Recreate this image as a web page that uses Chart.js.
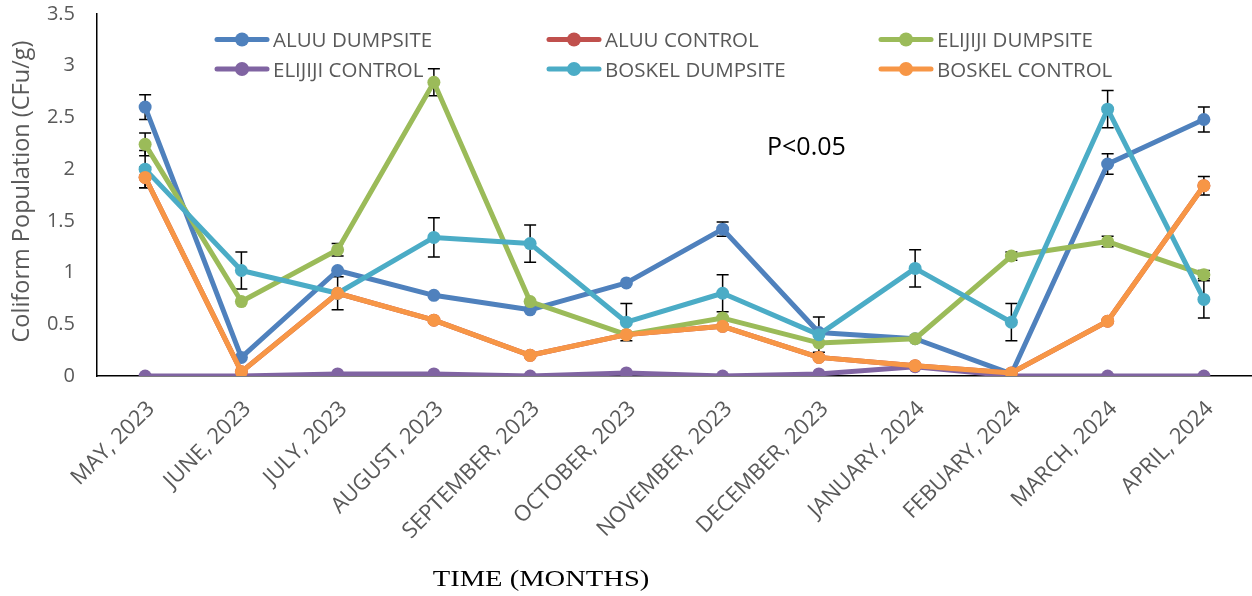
<!DOCTYPE html>
<html>
<head>
<meta charset="utf-8">
<script src="https://cdn.jsdelivr.net/npm/chart.js@4.4.0/dist/chart.umd.min.js"></script>
<style>
html,body{margin:0;padding:0;background:#fff;}
#wrap{width:1252px;height:596px;position:relative;}
</style>
</head>
<body>
<div id="wrap"><canvas id="c" width="1252" height="596"></canvas></div>
<script>
// ---- Data ----
const months = ['MAY, 2023','JUNE, 2023','JULY, 2023','AUGUST, 2023','SEPTEMBER, 2023','OCTOBER, 2023','NOVEMBER, 2023','DECEMBER, 2023','JANUARY, 2024','FEBUARY, 2024','MARCH, 2024','APRIL, 2024'];
const seriesNames = ['ALUU DUMPSITE','ALUU CONTROL','ELIJIJI DUMPSITE','ELIJIJI CONTROL','BOSKEL DUMPSITE','BOSKEL CONTROL'];
const aluuDump       = [2.60,0.18,1.02,0.78,0.64,0.90,1.42,0.42,0.36,0.02,2.05,2.48];
const aluuControl    = [1.92,0.04,0.80,0.54,0.20,0.40,0.48,0.18,0.10,0.03,0.53,1.84];
const elijijiDump    = [2.24,0.72,1.22,2.84,0.72,0.40,0.56,0.32,0.36,1.16,1.30,0.98];
const elijijiControl = [0.00,0.00,0.02,0.02,0.00,0.03,0.00,0.02,0.09,0.00,0.00,0.00];
const boskelDump     = [2.00,1.02,0.80,1.34,1.28,0.52,0.80,0.40,1.04,0.52,2.58,0.74];
const boskelControl  = [1.92,0.04,0.80,0.54,0.20,0.40,0.48,0.18,0.10,0.03,0.53,1.84];
// error bar half-widths (null = none)
const aluuDumpErr       = [0.12,null,null,null,null,null,0.07,null,null,null,0.10,0.12];
const aluuControlErr    = [null,null,null,null,null,null,null,null,null,null,null,null];
const elijijiDumpErr    = [0.11,null,0.06,0.13,null,null,null,null,null,0.04,0.05,0.04];
const elijijiControlErr = [null,null,null,null,null,null,null,null,null,null,null,null];
const boskelDumpErr     = [0.18,0.18,0.16,0.19,0.18,0.18,0.18,0.17,0.18,0.18,0.18,0.18];
const boskelControlErr  = [0.10,null,null,null,null,null,null,null,null,null,null,0.09];
const yTicks = [0,0.5,1,1.5,2,2.5,3,3.5];
const annotationText = 'P<0.05';
const xTitle = 'TIME (MONTHS)';
const yTitle = 'Coliform Population (CFu/g)';

const colors = ['#4F81BD','#C0504D','#9BBB59','#8064A2','#4BACC6','#F79646'];
const values = [aluuDump, aluuControl, elijijiDump, elijijiControl, boskelDump, boskelControl];
const errs = [aluuDumpErr, aluuControlErr, elijijiDumpErr, elijijiControlErr, boskelDumpErr, boskelControlErr];

const datasets = values.map((v, i) => ({
  label: seriesNames[i],
  data: v,
  errors: errs[i],
  borderColor: colors[i],
  backgroundColor: colors[i],
  borderWidth: 5,
  borderJoinStyle: 'round',
  borderCapStyle: 'round',
  pointRadius: 6.5,
  pointHoverRadius: 6.5,
  pointBorderWidth: 0,
  pointBackgroundColor: colors[i],
  tension: 0,
  order: 10 - i
}));

const extras = {
  id: 'extras',
  beforeDatasetsDraw(chart) {
    const ctx = chart.ctx, xs = chart.scales.x, ys = chart.scales.y;
    ctx.save();
    ctx.strokeStyle = '#000';
    ctx.lineWidth = 1.5;
    chart.data.datasets.forEach(ds => {
      (ds.errors || []).forEach((e, j) => {
        if (e == null) return;
        const x = xs.getPixelForValue(j);
        const y1 = ys.getPixelForValue(ds.data[j] + e);
        const y2 = ys.getPixelForValue(ds.data[j] - e);
        ctx.beginPath();
        ctx.moveTo(x, y1); ctx.lineTo(x, y2);
        ctx.moveTo(x - 6, y1); ctx.lineTo(x + 6, y1);
        ctx.moveTo(x - 6, y2); ctx.lineTo(x + 6, y2);
        ctx.stroke();
      });
    });
    ctx.restore();
  },
  afterDraw(chart, args, opts) {
    const ctx = chart.ctx;
    ctx.save();
    // legend
    ctx.font = '20.5px "Open Sans"';
    ctx.textAlign = 'left';
    ctx.textBaseline = 'alphabetic';
    chart.data.datasets.forEach((ds, i) => {
      const x0 = opts.legendCols[i % 3];
      const y0 = opts.legendRows[Math.floor(i / 3)];
      ctx.strokeStyle = ds.borderColor;
      ctx.lineWidth = 5;
      ctx.lineCap = 'round';
      ctx.beginPath(); ctx.moveTo(x0 + 2, y0); ctx.lineTo(x0 + 52, y0); ctx.stroke();
      ctx.fillStyle = ds.borderColor;
      ctx.beginPath(); ctx.arc(x0 + 27, y0, 7, 0, Math.PI * 2); ctx.fill();
      ctx.fillStyle = '#595959';
      ctx.fillText(ds.label, x0 + 58, y0 + 7.5);
    });
    // annotation
    ctx.fillStyle = '#000';
    ctx.font = '25px "Open Sans"';
    ctx.fillText(annotationText, opts.annX, opts.annY);
    // y title
    ctx.save();
    ctx.translate(opts.yTitleX, opts.yTitleY);
    ctx.rotate(-Math.PI / 2);
    ctx.textAlign = 'center';
    ctx.textBaseline = 'middle';
    ctx.fillStyle = '#595959';
    ctx.font = '23.5px "Open Sans"';
    ctx.fillText(yTitle, 0, 0);
    ctx.restore();
    // x title
    ctx.save();
    ctx.translate(opts.xTitleX, opts.xTitleY);
    ctx.scale(1.19, 1);
    ctx.textAlign = 'center';
    ctx.textBaseline = 'alphabetic';
    ctx.fillStyle = '#000';
    ctx.font = '24px "Liberation Serif"';
    ctx.fillText(xTitle, 0, 0);
    ctx.restore();
    ctx.restore();
  }
};

new Chart(document.getElementById('c'), {
  type: 'line',
  data: { labels: months, datasets },
  plugins: [extras],
  options: {
    responsive: false,
    devicePixelRatio: 1,
    animation: false,
    events: [],
    layout: { autoPadding: false, padding: { top: 14, left: 0, right: 0, bottom: 0 } },
    plugins: {
      legend: { display: false },
      tooltip: { enabled: false },
      extras: {
        legendCols: [215, 547, 879],
        legendRows: [39.5, 69],
        annX: 767, annY: 155,
        yTitleX: 22, yTitleY: 191.5,
        xTitleX: 541, xTitleY: 586
      }
    },
    scales: {
      x: {
        offset: true,
        grid: { display: false, drawTicks: false },
        border: { display: true, color: '#000', width: 1.5 },
        ticks: {
          color: '#595959',
          font: { family: 'Open Sans', size: 22 },
          minRotation: 45, maxRotation: 45,
          padding: 20, labelOffset: 6,
          autoSkip: false
        },
        afterFit(s) { s.height = 220; s.paddingLeft = 0; s.paddingRight = 0; }
      },
      y: {
        min: 0, max: 3.5,
        grid: { display: false, drawTicks: false },
        border: { display: true, color: '#000', width: 1.5 },
        afterBuildTicks(s) { s.ticks = yTicks.map(v => ({ value: v })); },
        ticks: {
          color: '#595959',
          font: { family: 'Open Sans', size: 20 },
          padding: 22,
          callback: v => String(v)
        },
        afterFit(s) { s.width = 97; s.paddingTop = 0; s.paddingBottom = 0; }
      }
    }
  }
});
</script>
</body>
</html>
